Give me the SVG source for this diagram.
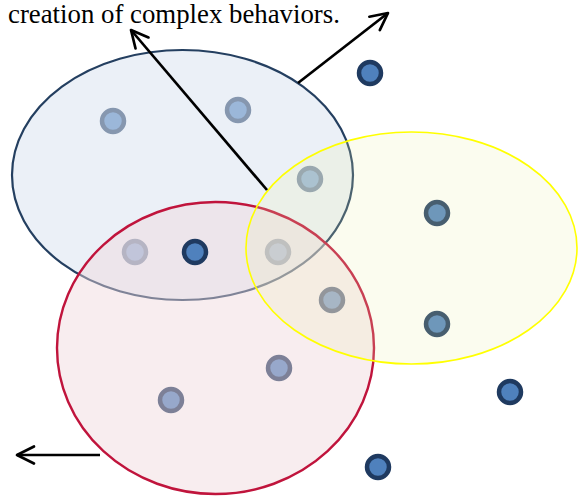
<svg xmlns="http://www.w3.org/2000/svg" width="579" height="496" viewBox="0 0 579 496">
  <defs>
    <style>
      .dot { fill: #4F81BD; stroke: #1F3A60; stroke-width: 4.5; }
      .set-blue { fill: #DAE3F0; fill-opacity: 0.55; stroke: #243F60; stroke-width: 2.2; }
      .set-red { fill: #F0D8DC; fill-opacity: 0.45; stroke: #C0143C; stroke-width: 2.4; }
      .set-yellow { fill: #EBF0B0; fill-opacity: 0.2; stroke: #FFFF00; stroke-width: 1.6; }
      .arrow { fill: none; stroke: #000; stroke-width: 2.7; marker-end: url(#head); }
      .caption { font-family: "Liberation Serif", "Times New Roman", serif; font-size: 26.8px; fill: #000; }
    </style>
    <marker id="head" viewBox="0 0 22 22" refX="19" refY="11" markerWidth="22" markerHeight="22" markerUnits="userSpaceOnUse" orient="auto">
      <path d="M2,2.5 L19,11 L2,19.5" fill="none" stroke="#000" stroke-width="2.7" stroke-linejoin="round" stroke-linecap="round"/>
    </marker>
  </defs>

  <text class="caption" x="8" y="23">creation of complex behaviors.</text>

  <!-- elements lying underneath the translucent sets -->
  <g id="elements-covered">
    <circle id="e1" class="dot" cx="113" cy="121" r="11"/>
    <circle id="e2" class="dot" cx="238" cy="110" r="11"/>
    <circle id="e3" class="dot" cx="310" cy="179" r="11"/>
    <circle id="e4" class="dot" cx="135" cy="252" r="11"/>
    <circle id="e6" class="dot" cx="278" cy="252" r="11"/>
    <circle id="e7" class="dot" cx="332" cy="300" r="11"/>
    <circle id="e8" class="dot" cx="279" cy="368" r="11"/>
    <circle id="e9" class="dot" cx="171" cy="400" r="11"/>
    <circle id="e10" class="dot" cx="437" cy="213" r="11"/>
    <circle id="e11" class="dot" cx="437" cy="324" r="11"/>
  </g>

  <!-- overlapping sets -->
  <g id="set-blue"><ellipse class="set-blue" cx="182.5" cy="175" rx="170.5" ry="125"/></g>
  <g id="set-red"><ellipse class="set-red" cx="215.5" cy="348" rx="158.5" ry="146"/></g>
  <g id="set-yellow"><ellipse class="set-yellow" cx="411.5" cy="248" rx="165.5" ry="116"/></g>

  <!-- elements drawn in front -->
  <g id="elements-front">
    <circle id="e5" class="dot" cx="195" cy="252" r="11"/>
    <circle id="e12" class="dot" cx="370" cy="73" r="11"/>
    <circle id="e13" class="dot" cx="510" cy="392" r="11"/>
    <circle id="e14" class="dot" cx="378" cy="467" r="11"/>
  </g>

  <g id="connectors">
    <line class="arrow" x1="267" y1="190" x2="131" y2="30"/>
    <line class="arrow" x1="298" y1="83" x2="388" y2="13"/>
    <line class="arrow" x1="100" y1="455" x2="17" y2="455"/>
  </g>
</svg>
